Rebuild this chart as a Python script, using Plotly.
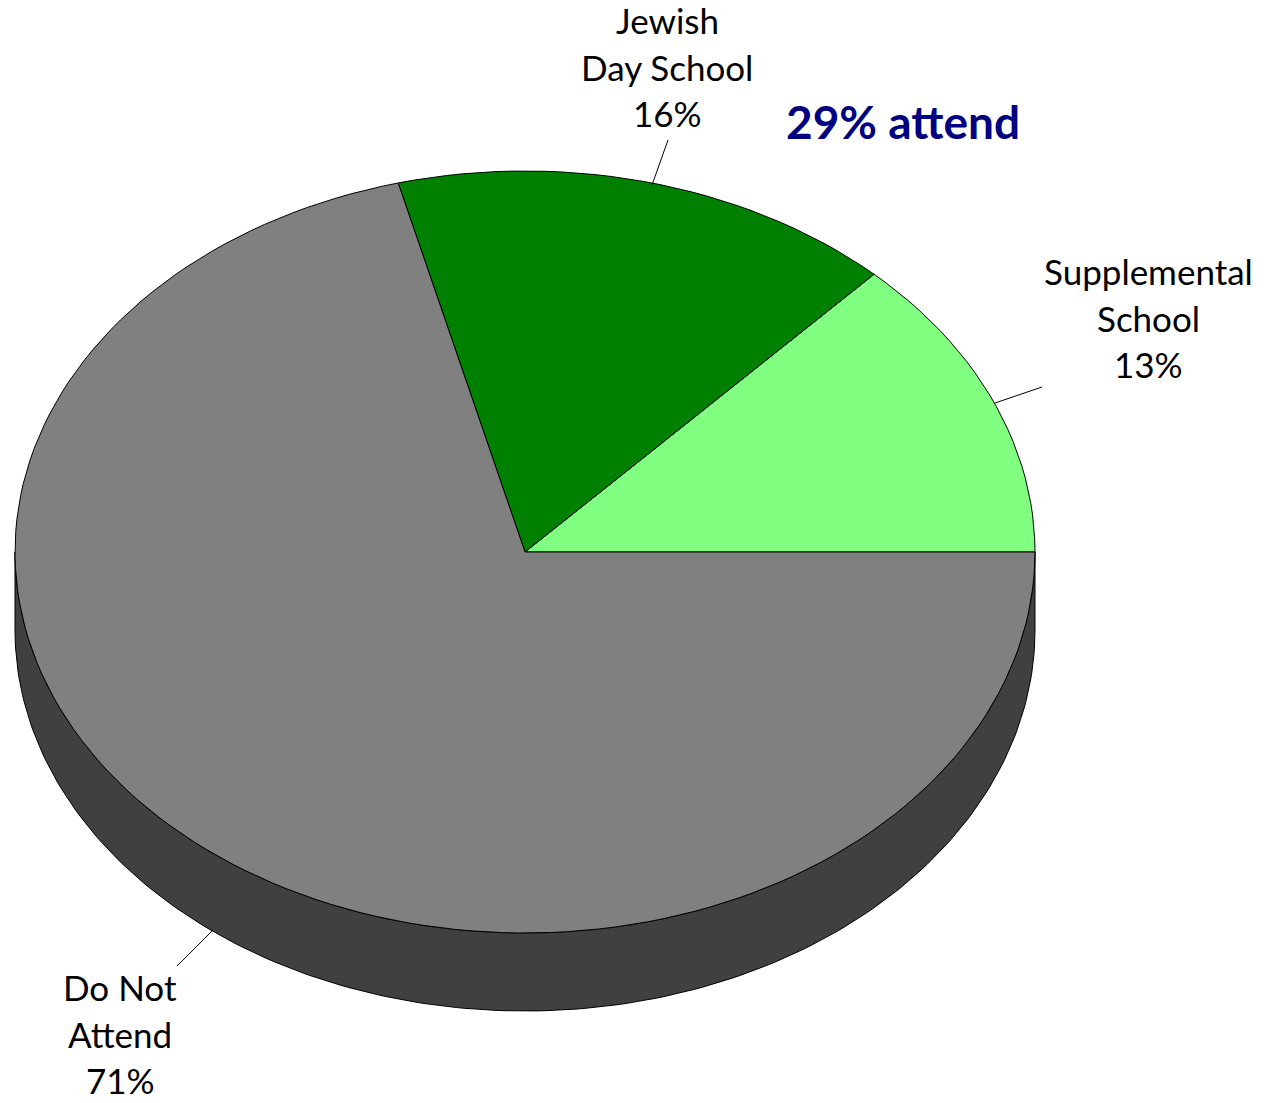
import numpy as np
import plotly.graph_objects as go

# ---- data ----
categories = ["Supplemental School", "Jewish Day School", "Do Not Attend"]
values = [13, 16, 71]
label_lines = [["Supplemental", "School"], ["Jewish", "Day School"], ["Do Not", "Attend"]]
colors = ["#80FF80", "#008000", "#808080"]
side_color = "#404040"
title_text = "29% attend"

# ---- geometry (pixel-like coordinate space) ----
W, H = 1268, 1103
cx, cy, rx, ry, depth = 525, 552, 510, 381, 78
FONT = "Lato, 'Open Sans', sans-serif"

def pt(t, dy=0.0):
    return cx + rx * np.cos(t), cy - ry * np.sin(t) + dy

fig = go.Figure()

# side (front wall) - visible from 180 deg to 360 deg
ts = np.linspace(np.pi, 2 * np.pi, 200)
xs_top, ys_top = pt(ts)
xs_bot, ys_bot = pt(ts[::-1], depth)
fig.add_trace(go.Scatter(
    x=np.concatenate([xs_top, xs_bot, xs_top[:1]]),
    y=np.concatenate([ys_top, ys_bot, ys_top[:1]]),
    mode="lines", fill="toself", fillcolor=side_color,
    line=dict(color="black", width=1), hoverinfo="skip", showlegend=False))

# top slices
total = sum(values)
start = 0.0
for cat, v, col in zip(categories, values, colors):
    a0 = start
    a1 = start + 2 * np.pi * v / total
    t = np.linspace(a0, a1, max(int(200 * v / total), 10))
    ex, ey = pt(t)
    fig.add_trace(go.Scatter(
        x=np.concatenate([[cx], ex, [cx]]),
        y=np.concatenate([[cy], ey, [cy]]),
        mode="lines", fill="toself", fillcolor=col,
        line=dict(color="black", width=1), name=cat,
        hoverinfo="name", showlegend=False))
    start = a1

# labels: (center x, first line y, leader line start, leader line end)
label_pos = [
    (1148, 271, (995, 403), (1042, 387)),
    (667, 20, (652, 185), (668, 140)),
    (120, 987, (213, 930), (177, 966)),
]
line_gap = 46.5
for (lines, v, (lx, ly, p0, p1)) in zip(label_lines, values, label_pos):
    all_lines = lines + [f"{v}%"]
    for i, s in enumerate(all_lines):
        fig.add_annotation(x=lx, y=ly + i * line_gap, text=s, showarrow=False,
                           xanchor="center", yanchor="middle",
                           font=dict(family=FONT, size=35, color="black"))
    fig.add_shape(type="line", x0=p0[0], y0=p0[1], x1=p1[0], y1=p1[1],
                  line=dict(color="black", width=1))

fig.add_annotation(x=903, y=121, text=f"<b>{title_text}</b>", showarrow=False,
                   xanchor="center", yanchor="middle",
                   font=dict(family=FONT, size=46, color="#000080"))

fig.update_layout(
    width=W, height=H, autosize=False,
    margin=dict(l=0, r=0, t=0, b=0),
    paper_bgcolor="white", plot_bgcolor="white",
    xaxis=dict(range=[0, W], visible=False, fixedrange=True),
    yaxis=dict(range=[H, 0], visible=False, fixedrange=True),
)

fig.write_html("out.html", config={"displayModeBar": False},
               post_script="document.body.style.margin='0';")
